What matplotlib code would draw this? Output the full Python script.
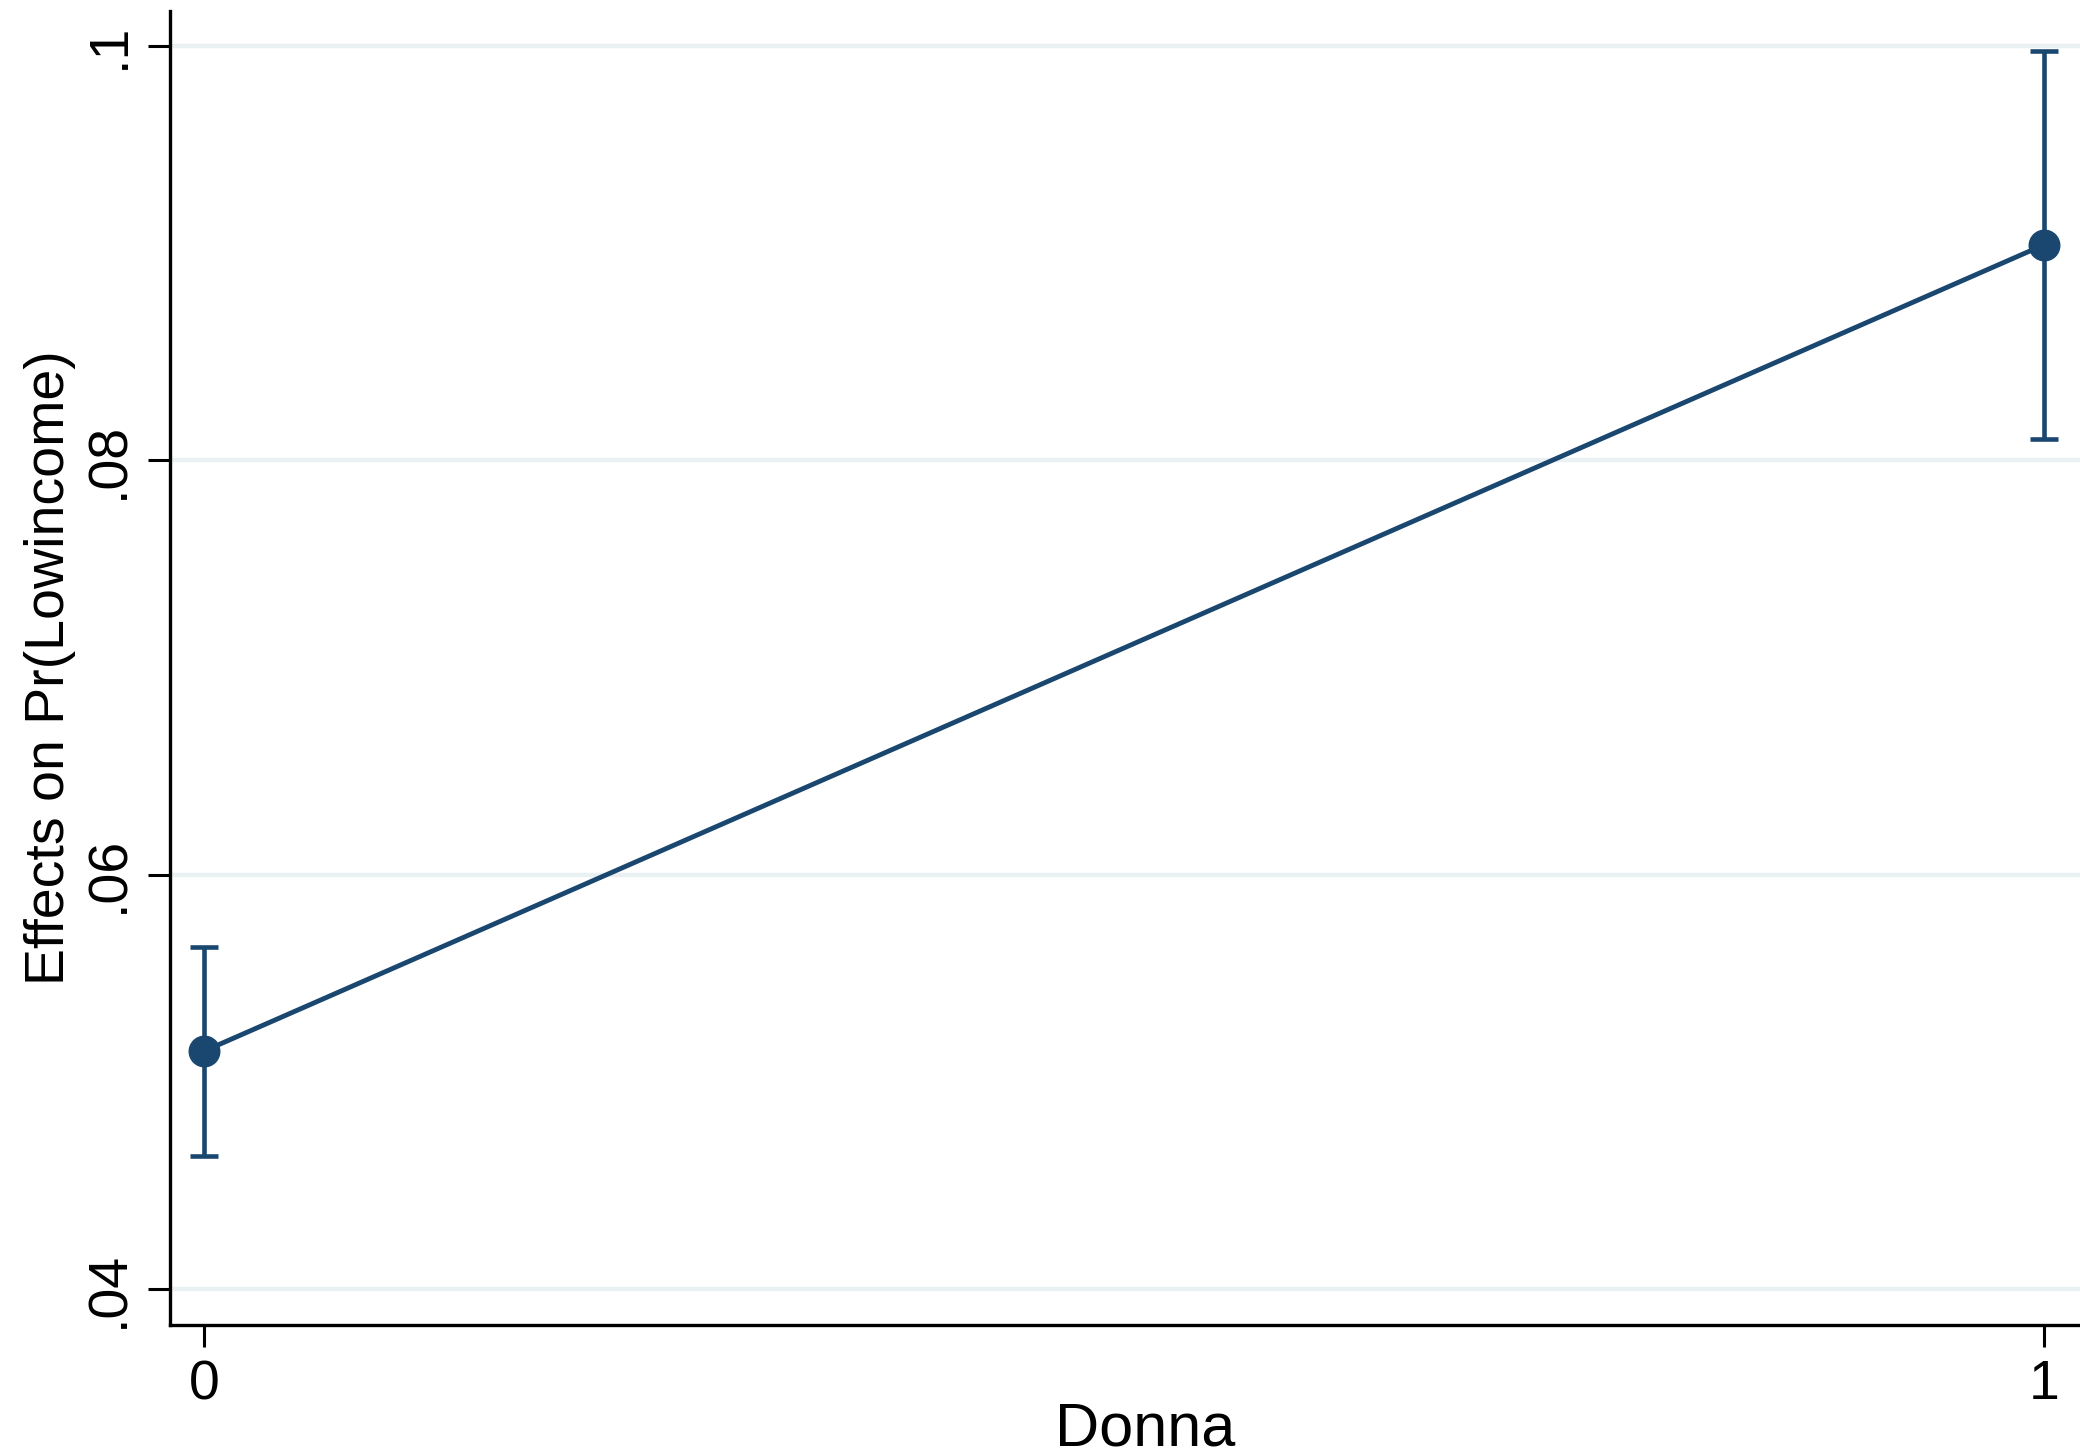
import matplotlib
matplotlib.use('Agg')
import matplotlib.pyplot as plt

plt.rcParams['font.family'] = ['Liberation Sans', 'DejaVu Sans']

# margins at Donna = 0 / 1 with 95% confidence bounds
donna = [0, 1]
effect = [0.0515, 0.0904]
ci_low = [0.04645, 0.08103]
ci_high = [0.05654, 0.09976]
yticks = [0.04, 0.06, 0.08, 0.10]
ytick_labels = ['.04', '.06', '.08', '.1']
xticks = [0, 1]
xtick_labels = ['0', '1']

navy = '#1a476f'
grid_col = '#eaf1f2'

fig = plt.figure(figsize=(20.8, 14.55), dpi=100)
ax = fig.add_axes([170 / 2080, 1 - 1325 / 1455, 1 - 170 / 2080, (1325 - 11) / 1455])

for y in yticks:
    ax.axhline(y, color=grid_col, lw=3.2, zorder=0)

yerr = [[e - lo for e, lo in zip(effect, ci_low)],
        [hi - e for e, hi in zip(effect, ci_high)]]
ax.errorbar(donna, effect, yerr=yerr, color=navy, lw=3.5, elinewidth=3.3,
            capsize=10, capthick=3.3, marker='o', markersize=22, zorder=3)

ax.set_xlim(-0.01864, 1.0194)
ax.set_ylim(0.03828, 0.101675)

ax.set_xticks(xticks)
ax.set_xticklabels(xtick_labels)
ax.set_yticks(yticks)
ax.set_yticklabels(ytick_labels, rotation=90, va='center')

for side in ['top', 'right']:
    ax.spines[side].set_visible(False)
for side in ['left', 'bottom']:
    ax.spines[side].set_linewidth(2.4)

ax.tick_params(axis='both', length=15.8, width=2.2, labelsize=40, color='black')
ax.tick_params(axis='x', pad=9)
ax.tick_params(axis='y', pad=9)

fig.text(50 / 2080, 1 - 668 / 1455, 'Effects on Pr(Lowincome)', rotation=90,
         ha='center', va='center', fontsize=40)
fig.text(1145 / 2080, 1 - 1445 / 1455, 'Donna', ha='center', va='baseline',
         fontsize=44)

fig.savefig('out.png', dpi=100, facecolor='white')
